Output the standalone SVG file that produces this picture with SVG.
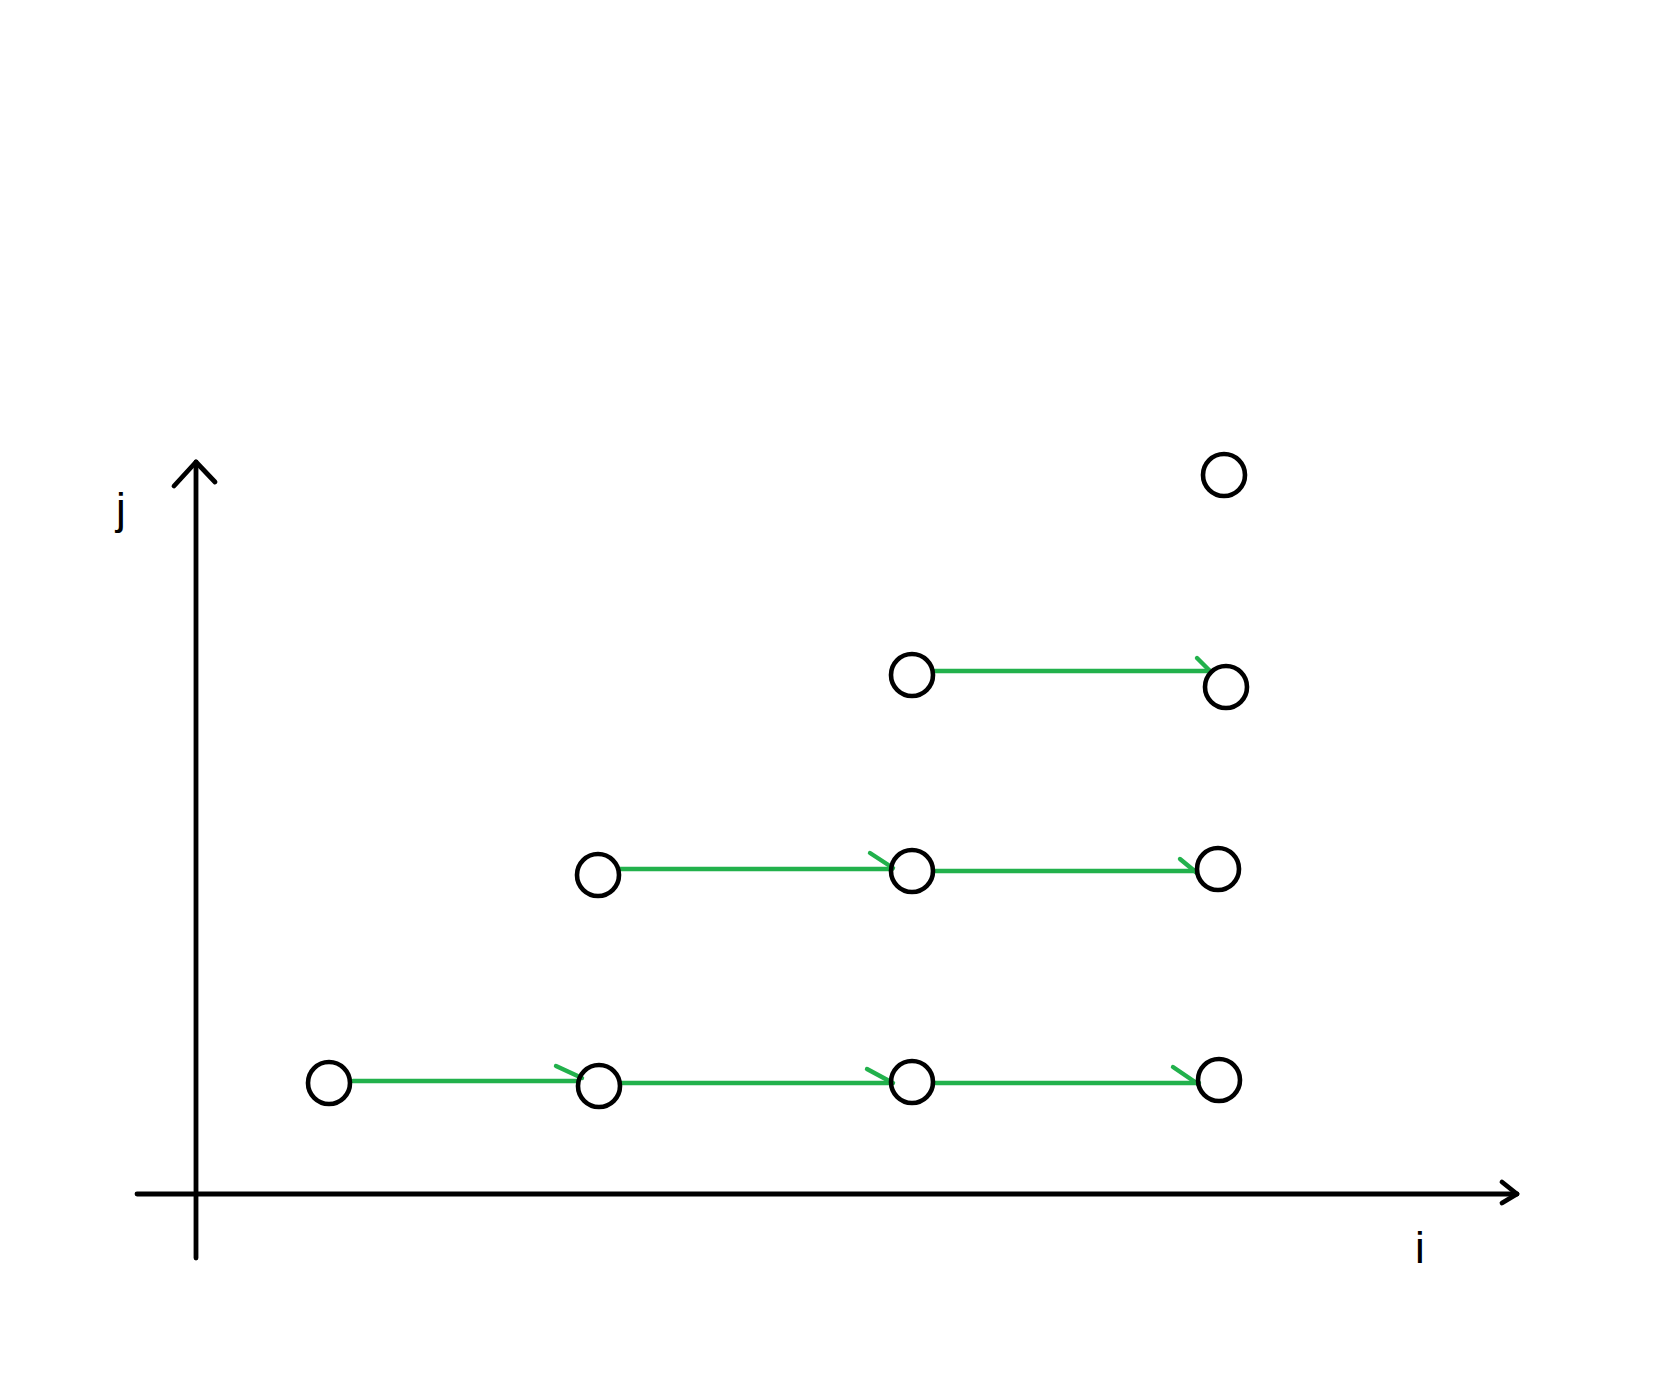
<svg xmlns="http://www.w3.org/2000/svg" width="1654" height="1400" viewBox="0 0 1654 1400">
<style>
.node{fill:none;stroke:#000;stroke-width:4.6}
.axis{fill:none;stroke:#000;stroke-width:4.8;stroke-linecap:round;stroke-linejoin:round}
.edge{fill:none;stroke:#22b14c;stroke-width:4.4;stroke-linecap:round;stroke-linejoin:round}
.lbl{font-family:"Liberation Sans",Arial,sans-serif;font-size:44px;fill:#000;text-anchor:middle}
</style>
<rect width="1654" height="1400" fill="#fff"/>
<g id="axes">
<line class="axis" x1="196" y1="462" x2="196" y2="1258"/>
<polyline class="axis" points="174,486 196,462 215,482"/>
<line class="axis" x1="137" y1="1194" x2="1517" y2="1194"/>
<polyline class="axis" points="1502,1182 1517,1194 1502,1203"/>
<text class="lbl" x="121" y="524">j</text>
<text class="lbl" x="1420" y="1263">i</text>
</g>
<g id="connectors">
<line class="edge" x1="935" y1="671" x2="1211" y2="671"/>
<line class="edge" x1="1197" y1="658" x2="1211" y2="672"/>
<line class="edge" x1="620" y1="869" x2="892" y2="869"/>
<line class="edge" x1="870" y1="853" x2="893" y2="868"/>
<line class="edge" x1="935" y1="871" x2="1197" y2="871"/>
<line class="edge" x1="1180" y1="859" x2="1197" y2="873"/>
<line class="edge" x1="353" y1="1081" x2="578" y2="1081"/>
<line class="edge" x1="556" y1="1066" x2="582" y2="1078"/>
<line class="edge" x1="622" y1="1083" x2="892" y2="1083"/>
<line class="edge" x1="867" y1="1069" x2="893" y2="1083"/>
<line class="edge" x1="935" y1="1083" x2="1199" y2="1083"/>
<line class="edge" x1="1173" y1="1067" x2="1198" y2="1084"/>
</g>
<g id="n1"><circle class="node" cx="1224" cy="475" r="21"/></g>
<g id="n2"><circle class="node" cx="912" cy="675" r="21"/></g>
<g id="n3"><circle class="node" cx="1226" cy="687" r="21"/></g>
<g id="n4"><circle class="node" cx="598" cy="875" r="21"/></g>
<g id="n5"><circle class="node" cx="912" cy="871" r="21"/></g>
<g id="n6"><circle class="node" cx="1218" cy="869" r="21"/></g>
<g id="n7"><circle class="node" cx="329" cy="1083" r="21"/></g>
<g id="n8"><circle class="node" cx="599" cy="1086" r="21"/></g>
<g id="n9"><circle class="node" cx="912" cy="1082" r="21"/></g>
<g id="n10"><circle class="node" cx="1219" cy="1080" r="21"/></g>
</svg>
